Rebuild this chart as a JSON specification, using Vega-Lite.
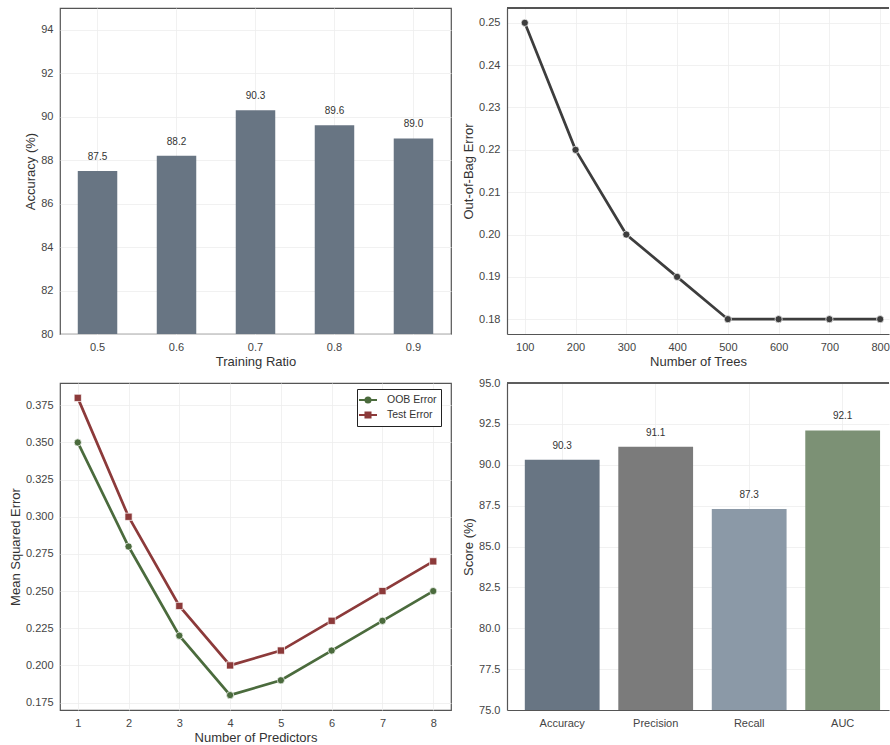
{
  "$schema": "https://vega.github.io/schema/vega-lite/v6.json",
  "background": "white",
  "padding": {"left": 8, "top": 7, "right": 0, "bottom": 0},
  "datasets": {
    "ratio": [
      {"ratio": 0.5, "accuracy": 87.5},
      {"ratio": 0.6, "accuracy": 88.2},
      {"ratio": 0.7, "accuracy": 90.3},
      {"ratio": 0.8, "accuracy": 89.6},
      {"ratio": 0.9, "accuracy": 89.0}
    ],
    "trees": [
      {"trees": 100, "oob": 0.25},
      {"trees": 200, "oob": 0.22},
      {"trees": 300, "oob": 0.20},
      {"trees": 400, "oob": 0.19},
      {"trees": 500, "oob": 0.18},
      {"trees": 600, "oob": 0.18},
      {"trees": 700, "oob": 0.18},
      {"trees": 800, "oob": 0.18}
    ],
    "predictors": [
      {"k": 1, "series": "OOB Error", "mse": 0.35},
      {"k": 2, "series": "OOB Error", "mse": 0.28},
      {"k": 3, "series": "OOB Error", "mse": 0.22},
      {"k": 4, "series": "OOB Error", "mse": 0.18},
      {"k": 5, "series": "OOB Error", "mse": 0.19},
      {"k": 6, "series": "OOB Error", "mse": 0.21},
      {"k": 7, "series": "OOB Error", "mse": 0.23},
      {"k": 8, "series": "OOB Error", "mse": 0.25},
      {"k": 1, "series": "Test Error", "mse": 0.38},
      {"k": 2, "series": "Test Error", "mse": 0.30},
      {"k": 3, "series": "Test Error", "mse": 0.24},
      {"k": 4, "series": "Test Error", "mse": 0.20},
      {"k": 5, "series": "Test Error", "mse": 0.21},
      {"k": 6, "series": "Test Error", "mse": 0.23},
      {"k": 7, "series": "Test Error", "mse": 0.25},
      {"k": 8, "series": "Test Error", "mse": 0.27}
    ],
    "metrics": [
      {"metric": "Accuracy", "score": 90.3},
      {"metric": "Precision", "score": 91.1},
      {"metric": "Recall", "score": 87.3},
      {"metric": "AUC", "score": 92.1}
    ]
  },
  "columns": 2,
  "bounds": "flush",
  "align": "each",
  "spacing": {"row": 49, "column": 56},
  "resolve": {"scale": {"color": "independent"}, "legend": {"color": "independent"}},
  "concat": [
    {
      "width": 391,
      "height": 326,
      "data": {"name": "ratio"},
      "layer": [
        {
          "mark": {"type": "bar", "color": "#687583"},
          "encoding": {
            "x": {
              "field": "ratio", "type": "ordinal", "sort": null,
              "scale": {"paddingInner": 0.5, "paddingOuter": 0.225},
              "axis": {"title": "Training Ratio", "labelAngle": 0, "bandPosition": 0.5, "grid": true}
            },
            "y": {
              "field": "accuracy", "type": "quantitative",
              "scale": {"domain": [80, 95], "nice": false, "zero": false},
              "axis": {"title": "Accuracy (%)", "values": [80, 82, 84, 86, 88, 90, 92, 94]}
            },
            "y2": {"datum": 80}
          }
        },
        {
          "mark": {"type": "text", "baseline": "alphabetic", "dy": -11, "fontSize": 10, "color": "#333"},
          "encoding": {
            "x": {"field": "ratio", "type": "ordinal", "sort": null},
            "y": {"field": "accuracy", "type": "quantitative"},
            "text": {"field": "accuracy", "type": "quantitative", "format": ".1f"}
          }
        }
      ]
    },
    {
      "width": 382,
      "height": 326,
      "view": {"stroke": null},
      "data": {"name": "trees"},
      "layer": [
        {
          "mark": {"type": "line", "color": "#3d3d3d", "strokeWidth": 2.7},
          "encoding": {
            "x": {
              "field": "trees", "type": "quantitative",
              "scale": {"domain": [65, 817.4], "nice": false, "zero": false},
              "axis": {"title": "Number of Trees", "values": [100, 200, 300, 400, 500, 600, 700, 800], "domain": true}
            },
            "y": {
              "field": "oob", "type": "quantitative",
              "scale": {"domain": [0.1765, 0.2535], "nice": false, "zero": false},
              "axis": {"title": "Out-of-Bag Error", "values": [0.18, 0.19, 0.2, 0.21, 0.22, 0.23, 0.24, 0.25], "format": ".2f", "domain": true}
            }
          }
        },
        {
          "mark": {"type": "point", "filled": true, "color": "#3d3d3d", "size": 52, "stroke": "white", "strokeWidth": 0.7, "opacity": 1},
          "encoding": {
            "x": {"field": "trees", "type": "quantitative"},
            "y": {"field": "oob", "type": "quantitative"}
          }
        },
        {
          "mark": {"type": "rule", "color": "#555555", "strokeWidth": 1.2},
          "encoding": {"y": {"datum": 0.2535}}
        }
      ]
    },
    {
      "width": 391,
      "height": 327,
      "data": {"name": "predictors"},
      "layer": [
        {
          "mark": {"type": "line", "strokeWidth": 2.7},
          "encoding": {
            "x": {
              "field": "k", "type": "quantitative",
              "scale": {"domain": [0.65, 8.35], "nice": false, "zero": false},
              "axis": {"title": "Number of Predictors", "values": [1, 2, 3, 4, 5, 6, 7, 8]}
            },
            "y": {
              "field": "mse", "type": "quantitative",
              "scale": {"domain": [0.17, 0.39], "nice": false, "zero": false},
              "axis": {"title": "Mean Squared Error", "values": [0.175, 0.2, 0.225, 0.25, 0.275, 0.3, 0.325, 0.35, 0.375], "format": ".3f"}
            },
            "color": {
              "field": "series", "type": "nominal",
              "scale": {"domain": ["OOB Error", "Test Error"], "range": ["#4b6b3d", "#8c3a3a"]},
              "legend": {
                "title": null,
                "orient": "none",
                "legendX": 297,
                "legendY": 6,
                "strokeColor": "#222222",
                "fillColor": "white",
                "padding": 4,
                "cornerRadius": 0,
                "labelFontSize": 10.5,
                "labelColor": "#333",
                "labelOffset": 12,
                "rowPadding": 1,
                "symbolSize": 144,
                "symbolStrokeWidth": 2,
                "encode": {
                  "symbols": {
                    "update": {
                      "shape": {"signal": "datum.value === 'OOB Error' ? 'M-1.5,0H-0.45M0.45,0H1.5M-0.42,0A0.42,0.42,0,1,0,0.42,0A0.42,0.42,0,1,0,-0.42,0Z' : 'M-1.5,0H-0.45M0.45,0H1.5M-0.42,-0.42H0.42V0.42H-0.42Z'"},
                      "fill": {"signal": "datum.value === 'OOB Error' ? '#4b6b3d' : '#8c3a3a'"},
                      "stroke": {"signal": "datum.value === 'OOB Error' ? '#4b6b3d' : '#8c3a3a'"},
                      "strokeWidth": {"value": 2},
                      "opacity": {"value": 1}
                    }
                  }
                }
              }
            }
          }
        },
        {
          "transform": [{"filter": "datum.series === 'OOB Error'"}],
          "mark": {"type": "point", "shape": "circle", "filled": true, "color": "#4b6b3d", "size": 52, "stroke": "white", "strokeWidth": 0.7, "opacity": 1},
          "encoding": {
            "x": {"field": "k", "type": "quantitative"},
            "y": {"field": "mse", "type": "quantitative"}
          }
        },
        {
          "transform": [{"filter": "datum.series === 'Test Error'"}],
          "mark": {"type": "point", "shape": "square", "filled": true, "color": "#8c3a3a", "size": 52, "stroke": "white", "strokeWidth": 0.7, "opacity": 1},
          "encoding": {
            "x": {"field": "k", "type": "quantitative"},
            "y": {"field": "mse", "type": "quantitative"}
          }
        }
      ]
    },
    {
      "width": 382,
      "height": 327,
      "view": {"stroke": null},
      "data": {"name": "metrics"},
      "layer": [
        {
          "mark": {"type": "bar"},
          "encoding": {
            "x": {
              "field": "metric", "type": "nominal", "sort": null,
              "scale": {"paddingInner": 0.2, "paddingOuter": 0.143, "align": 0.666},
              "axis": {"title": null, "labelAngle": 0, "bandPosition": 0.5, "grid": true, "domain": true}
            },
            "y": {
              "field": "score", "type": "quantitative",
              "scale": {"domain": [75, 95], "nice": false, "zero": false},
              "axis": {"title": "Score (%)", "values": [75, 77.5, 80, 82.5, 85, 87.5, 90, 92.5, 95], "format": ".1f", "domain": true}
            },
            "y2": {"datum": 75},
            "color": {
              "field": "metric", "type": "nominal",
              "scale": {"domain": ["Accuracy", "Precision", "Recall", "AUC"], "range": ["#687583", "#7b7b7b", "#8b99a7", "#7c9175"]},
              "legend": null
            }
          }
        },
        {
          "mark": {"type": "text", "baseline": "alphabetic", "dy": -11, "fontSize": 10, "color": "#333"},
          "encoding": {
            "x": {"field": "metric", "type": "nominal", "sort": null},
            "y": {"field": "score", "type": "quantitative"},
            "text": {"field": "score", "type": "quantitative", "format": ".1f"}
          }
        },
        {
          "mark": {"type": "rule", "color": "#555555", "strokeWidth": 1.2},
          "encoding": {"y": {"datum": 95}}
        }
      ]
    }
  ],
  "config": {
    "font": "Liberation Sans",
    "view": {"stroke": "#555555", "strokeWidth": 1.2},
    "axis": {
      "labelFontSize": 11,
      "labelColor": "#444444",
      "titleFontSize": 13,
      "titleFontWeight": "normal",
      "titleColor": "#333333",
      "ticks": false,
      "domain": false,
      "domainColor": "#555555",
      "domainWidth": 1.2,
      "grid": true,
      "gridColor": "#eeeeee",
      "gridWidth": 0.8,
      "labelPadding": 7,
      "titlePadding": 3
    }
  }
}
